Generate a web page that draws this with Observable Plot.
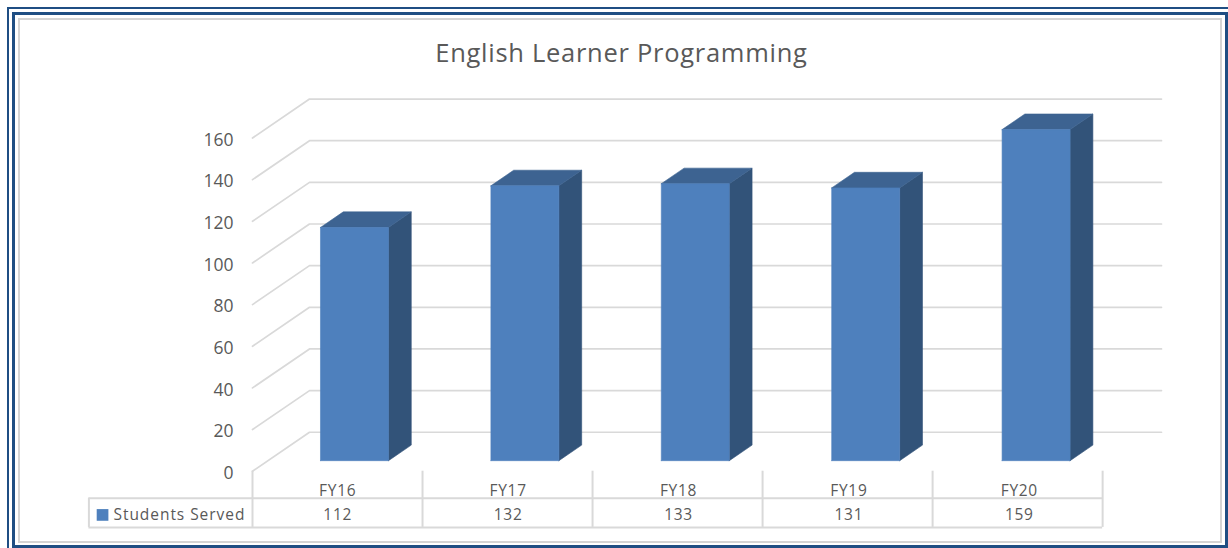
<!DOCTYPE html>
<html>
<head>
<meta charset="utf-8">
<script src="https://cdn.jsdelivr.net/npm/d3@7"></script>
<script src="https://cdn.jsdelivr.net/npm/@observablehq/plot@0.6"></script>
<style>
html,body{margin:0;padding:0;background:#fff;overflow:hidden;width:1228px;height:548px}
.b{position:absolute;box-sizing:border-box}
#chart{position:absolute;left:0;top:0}
g[aria-label="x-axis tick label"]{letter-spacing:0.7px}
</style>
</head>
<body>
<div class="b" style="left:7px;top:7px;width:1240px;height:560px;border:2px solid #1f4e83"></div>
<div class="b" style="left:12px;top:12px;width:1216px;height:536px;border:3px solid #1f4e83;background:#fff"></div>
<div class="b" style="left:18px;top:18px;width:1204px;height:525px;border:2px solid #d4d4d4"></div>
<div id="chart"></div>
<script>
const categories = ["FY16", "FY17", "FY18", "FY19", "FY20"];
const studentsServed = [112, 132, 133, 131, 159];
const yTicks = [0, 20, 40, 60, 80, 100, 120, 140, 160];
const seriesName = "Students Served";
const chartTitle = "English Learner Programming";

const FONT = "'Open Sans', 'Noto Sans', sans-serif";
const TEXT = "#595959", GRID = "#d9d9d9";
const FACE = "#4e80bd", TOP = "#3d6391", SIDE = "#325379";

// Oblique projection: depth d (0 front, 1 back wall) shifts x and y in data units.
const DX = 0.3345, DY = 18.7;
const P = (x, v, d) => ({x: x + d * DX, y: v + d * DY});

// Bar geometry in category units and depth
const BAR_X = 0.3087, BAR_W = 0.399, D1 = 0.27, D2 = 0.67;

const floorGrid = yTicks.flatMap(v => [
  {id: v, ...P(0, v, 0)}, {id: v, ...P(0, v, 1)}, {id: v, ...P(5, v, 1)}
]);

const poly = (id, pts) => pts.map(p => ({id, ...p}));
const barFaces = studentsServed.flatMap((v, i) => {
  const a = i + BAR_X, b = a + BAR_W;
  return [
    {fill: SIDE, pts: poly(`s${i}`, [P(b,0,D1), P(b,v,D1), P(b,v,D2), P(b,0,D2), P(b,0,D1)])},
    {fill: TOP,  pts: poly(`t${i}`, [P(a,v,D1), P(b,v,D1), P(b,v,D2), P(a,v,D2), P(a,v,D1)])},
    {fill: FACE, pts: poly(`f${i}`, [P(a,0,D1), P(b,0,D1), P(b,v,D1), P(a,v,D1), P(a,0,D1)])}
  ];
});
const faceMarks = [SIDE, TOP, FACE].map(fill =>
  Plot.line(barFaces.filter(f => f.fill === fill).flatMap(f => f.pts), {
    x: "x", y: "y", z: "id", fill, stroke: fill, strokeWidth: 0.6
  })
);

// Data table rows below the axis, in y units
const rowMid = -13, rowBottom = -27, axisBottom = 0, rowText = -21;
const tableLeft = -0.96;
const colEdges = d3.range(0, 6).map(i => i * 0.9978);
const plot = Plot.plot({
  width: 1228, height: 548,
  marginLeft: 252, marginRight: 124, marginTop: 137.5, marginBottom: 77.3,
  style: {background: "transparent", fontFamily: FONT, overflow: "visible"},
  x: {domain: [0, 5], range: [252, 1104]},
  y: {domain: [0, 160], range: [470.7, 137.5]},
  marks: [
    Plot.line(floorGrid, {x: "x", y: "y", z: "id", stroke: GRID, strokeWidth: 1.7}),
    ...faceMarks,
    Plot.axisY({ticks: yTicks, tickSize: 0, tickPadding: 19, label: null, fontSize: 17.5, fill: TEXT, dy: 2}),
    Plot.axisX({
      ticks: categories.map((c, i) => i + 0.5),
      tickFormat: t => categories[Math.floor(t)],
      tickSize: 0, tickPadding: 13.5, label: null, fontSize: 15.5, fill: TEXT, anchor: "bottom"
    }),
    Plot.ruleX(colEdges, {y1: axisBottom, y2: rowBottom, stroke: GRID, strokeWidth: 2}),
    Plot.ruleX([tableLeft], {y1: rowMid, y2: rowBottom, stroke: GRID, strokeWidth: 2}),
    Plot.ruleY([rowMid, rowBottom], {x1: tableLeft, x2: colEdges[5], stroke: GRID, strokeWidth: 2}),
    Plot.dot([seriesName], {x: () => -0.88, y: () => rowText, symbol: "square", r: 6.6, fill: FACE}),
    Plot.text([seriesName], {x: () => -0.816, y: () => rowText, text: d => d, textAnchor: "start", fontSize: 15.5, fill: TEXT}),
    Plot.text(studentsServed, {x: (d, i) => i + 0.5, y: () => rowText, text: d => String(d), fontSize: 15.5, fill: TEXT}),
    Plot.text([chartTitle], {x: () => 2.165, y: () => 200.3, text: d => d, fontSize: 25.5, fill: TEXT})
  ]
});
// The reference's text is stretched wider than any installed face; widen with tracking.
const spacing = new Map([
  [chartTitle, "0.72px"],
  [seriesName, "0.95px"],
  ...studentsServed.map(v => [String(v), "0.7px"])
]);
d3.select(plot).selectAll("text").each(function () {
  const s = spacing.get(this.textContent);
  if (s) this.style.letterSpacing = s;
});
document.getElementById("chart").appendChild(plot);
</script>
</body>
</html>
